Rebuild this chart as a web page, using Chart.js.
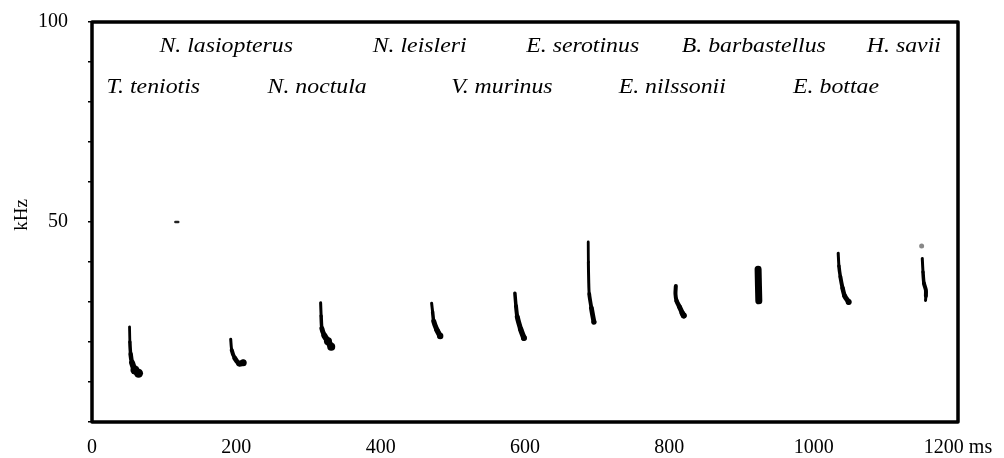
<!DOCTYPE html>
<html>
<head>
<meta charset="utf-8">
<script src="https://cdn.jsdelivr.net/npm/chart.js@4.4.1/dist/chart.umd.min.js"></script>
<style>
  html, body { margin: 0; padding: 0; background: #fff; }
  #wrap { width: 1004px; height: 458px; position: relative; }
</style>
</head>
<body>
<div id="wrap"><canvas id="c" width="1004" height="458"></canvas></div>
<script>
// ---- data (time in ms, frequency in kHz) ----
const xTicks = [0, 200, 400, 600, 800, 1000, 1200];
const xUnit = 'ms';
const yTickLabels = [50, 100];

const speciesRow1 = ['N. lasiopterus', 'N. leisleri', 'E. serotinus', 'B. barbastellus', 'H. savii'];
const speciesRow1Ms = [186, 454, 680, 917, 1125];
const speciesRow1KHz = 93.8;
const speciesRow2 = ['T. teniotis', 'N. noctula', 'V. murinus', 'E. nilssonii', 'E. bottae'];
const speciesRow2Ms = [85, 312, 568, 804, 1031];
const speciesRow2KHz = 83.5;

const callTeniotis     = [[52, 23.8], [52.5, 20], [53.5, 17], [55.5, 14.8], [59.5, 13], [64.5, 12.2]];
const callLasiopterus  = [[192.2, 20.7], [193.6, 18], [198, 15.9], [204, 14.6], [209.5, 14.8]];
const callNoctula      = [[316.8, 29.8], [317.5, 26.5], [318.5, 23.4], [322, 21.6], [327, 20.2], [331.5, 18.8]];
const callLeisleri     = [[470.6, 29.7], [472, 27.5], [473.5, 25.2], [478, 23], [482.5, 21.5]];
const callMurinus      = [[586, 32.2], [587.5, 29], [589.3, 26.3], [594, 23.2], [598.5, 21]];
const callSerotinus    = [[687.6, 45], [687.8, 40], [688.3, 35], [689, 32], [692, 28.5], [695.5, 25]];
const callNilssonii    = [[809, 34], [808.5, 32], [810, 30.3], [814, 28.8], [818, 27.2], [820, 26.6]];
const callBarbastellus = [[923, 38.2], [923.5, 34], [924, 30.3]];
const callBottae       = [[1034, 42.2], [1035, 39], [1037, 36.3], [1040, 33.5], [1043, 31.5], [1048.5, 30]];
const callSavii        = [[1150.5, 40.9], [1151.5, 37.5], [1152.8, 34.7], [1155.5, 33], [1155.5, 31.5], [1155, 30.4]];
const saviiEcho        = [[1149.6, 44]];
const stray50          = [[115.5, 50], [119.5, 50]];

// ---- build datasets ----
function toPts(arr) { return arr.map(p => ({ x: p[0], y: p[1] })); }
function callDataset(arr, widths, blobRadius, blobCount, color) {
  const n = arr.length;
  const c = color || '#000';
  return {
    type: 'line',
    data: toPts(arr),
    borderColor: c,
    backgroundColor: c,
    borderWidth: widths[0],
    borderCapStyle: 'round',
    borderJoinStyle: 'round',
    tension: 0.25,
    segment: { borderWidth: ctx => widths[Math.min(ctx.p0DataIndex, widths.length - 1)] },
    pointRadius: ctx => (ctx.dataIndex >= n - blobCount ? blobRadius : 0),
    pointBorderWidth: 0,
    pointHoverRadius: 0,
    fill: false
  };
}

const datasets = [
  callDataset(callTeniotis, [2.8, 3.5, 4.5, 6, 7], 4.5, 2),
  callDataset(callLasiopterus, [3, 4, 5, 6], 3.5, 1),
  callDataset(callNoctula, [3, 3.5, 5, 6, 6.5], 4, 2),
  callDataset(callLeisleri, [3, 3.5, 5, 5.5], 3.2, 1),
  callDataset(callMurinus, [3.5, 4, 5, 5.5], 3, 1),
  callDataset(callSerotinus, [2.8, 3, 3, 3.8, 4.8], 2.6, 1),
  callDataset(callNilssonii, [4, 4, 4.5, 5, 5.5], 3, 1),
  callDataset(callBarbastellus, [7, 7], 0, 0),
  callDataset(callBottae, [3, 3.5, 4, 4.5, 5], 3, 1),
  callDataset(callSavii, [3, 3.5, 4, 4, 3], 0, 0),
  callDataset(saviiEcho, [0], 2.5, 1, '#888'),
  callDataset(stray50, [2.5], 0, 0, '#222')
];

const FONT = '"Liberation Serif", "Times New Roman", serif';
const LABEL_STRETCH = 1.19;

const framePlugin = {
  id: 'frame',
  afterDatasetsDraw(chart) {
    const { ctx, chartArea: a, scales } = chart;
    ctx.save();
    ctx.strokeStyle = '#000';
    ctx.lineWidth = 3.5;
    ctx.lineJoin = 'round';
    ctx.strokeRect(a.left, a.top, a.right - a.left, a.bottom - a.top);
    // species labels
    ctx.fillStyle = '#000';
    ctx.font = 'italic 20px ' + FONT;
    ctx.textAlign = 'center';
    ctx.textBaseline = 'middle';
    const put = (s, xv, yv) => {
      ctx.save();
      ctx.translate(scales.x.getPixelForValue(xv), scales.y.getPixelForValue(yv));
      ctx.scale(LABEL_STRETCH, 1);
      ctx.fillText(s, 0, 0);
      ctx.restore();
    };
    speciesRow1.forEach((s, i) => put(s, speciesRow1Ms[i], speciesRow1KHz));
    speciesRow2.forEach((s, i) => put(s, speciesRow2Ms[i], speciesRow2KHz));
    ctx.restore();
  }
};

new Chart(document.getElementById('c'), {
  data: { datasets },
  options: {
    responsive: false,
    animation: false,
    events: [],
    layout: { padding: { top: 22, right: 46, left: 0, bottom: 0 } },
    plugins: { legend: { display: false }, tooltip: { enabled: false } },
    scales: {
      x: {
        type: 'linear',
        min: xTicks[0],
        max: xTicks[xTicks.length - 1],
        afterFit: s => { s.height = 36; s.paddingLeft = 0; s.paddingRight = 0; },
        afterBuildTicks: s => { s.ticks = xTicks.map(v => ({ value: v })); },
        grid: { display: false, drawTicks: false },
        border: { display: false },
        ticks: {
          color: '#000',
          font: { family: FONT, size: 20 },
          padding: 14,
          maxRotation: 0,
          autoSkip: false,
          callback: v => (v === xTicks[xTicks.length - 1] ? v + ' ' + xUnit : String(v))
        }
      },
      y: {
        type: 'linear',
        min: 0,
        max: 100,
        afterFit: s => { s.width = 92; s.paddingTop = 0; s.paddingBottom = 0; },
        grid: { drawOnChartArea: false, drawTicks: true, tickLength: 4, color: '#000', lineWidth: 1.5 },
        border: { display: false },
        title: {
          display: true,
          text: '   kHz',
          color: '#000',
          font: { family: FONT, size: 19 },
          padding: { top: 11, bottom: 0 }
        },
        ticks: {
          stepSize: 10,
          color: '#000',
          font: { family: FONT, size: 20 },
          padding: 20,
          autoSkip: false,
          callback: v => (yTickLabels.includes(v) ? String(v) : '')
        }
      }
    }
  },
  plugins: [framePlugin]
});
</script>
</body>
</html>
